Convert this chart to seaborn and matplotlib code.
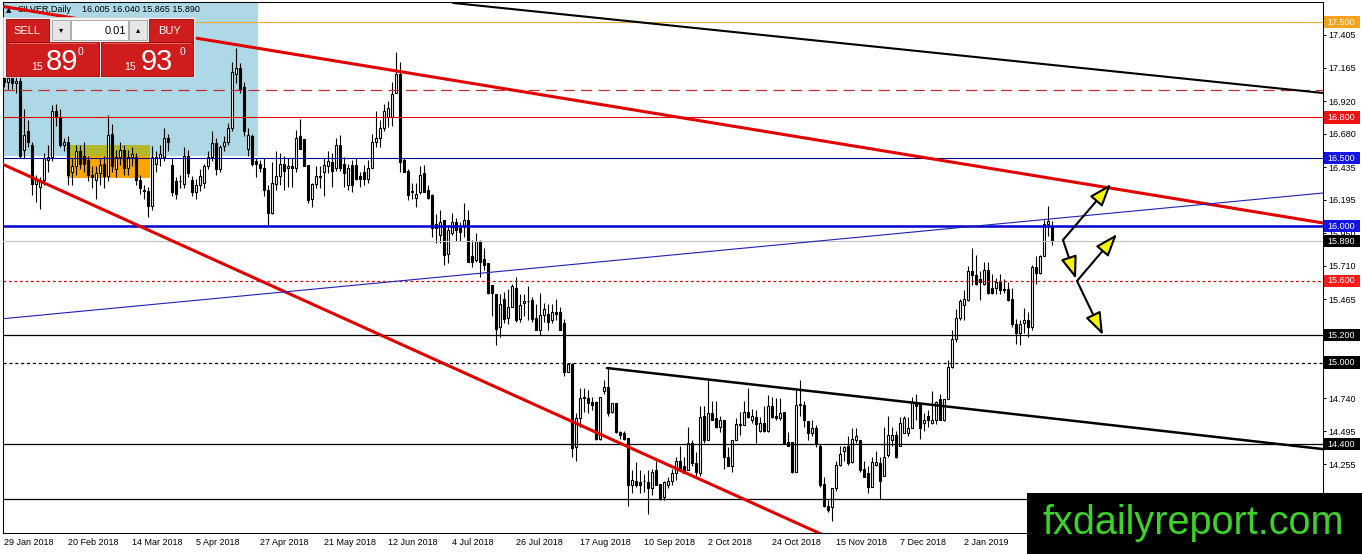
import matplotlib
matplotlib.use("Agg")
import numpy as np
import pandas as pd
import matplotlib.pyplot as plt
import matplotlib.font_manager as fm
import matplotlib.transforms as mtransforms
from matplotlib.patches import Rectangle
import seaborn as sns

# ===================================
# DATA
# ===================================

# daily candles, bar 0 = 29 Jan 2018
opens = [
    17.15, 17.06, 17.09, 17.05, 17.07, 16.56, 16.70, 16.60, 16.31, 16.29,
    16.34, 16.49, 16.51, 16.85, 16.80, 16.60, 16.62, 16.40, 16.44, 16.55,
    16.52, 16.49, 16.38, 16.34, 16.39, 16.46, 16.37, 16.68, 16.42, 16.51,
    16.56, 16.43, 16.51, 16.51, 16.34, 16.27, 16.26, 16.15, 16.46, 16.50,
    16.51, 16.65, 16.45, 16.33, 16.33, 16.31, 16.52, 16.34, 16.25, 16.30,
    16.32, 16.44, 16.51, 16.61, 16.42, 16.59, 16.62, 16.72, 17.12, 17.16,
    17.02, 16.57, 16.66, 16.48, 16.46, 16.43, 16.27, 16.10, 16.31, 16.37,
    16.46, 16.43, 16.44, 16.43, 16.66, 16.64, 16.45, 16.20, 16.31, 16.37,
    16.40, 16.44, 16.47, 16.43, 16.60, 16.46, 16.30, 16.45, 16.45, 16.37,
    16.40, 16.35, 16.43, 16.62, 16.65, 16.72, 16.80, 16.80, 16.98, 17.12,
    16.49, 16.41, 16.26, 16.21, 16.25, 16.39, 16.27, 16.23, 16.02, 15.94,
    16.05, 15.80, 15.95, 16.03, 15.99, 16.01, 16.05, 15.78, 15.75, 15.89,
    15.76, 15.73, 15.57, 15.50, 15.26, 15.47, 15.33, 15.41, 15.55, 15.32,
    15.44, 15.45, 15.46, 15.33, 15.24, 15.35, 15.36, 15.31, 15.37, 15.37,
    15.29, 14.93, 14.99, 14.38, 14.59, 14.74, 14.74, 14.71, 14.71, 14.44,
    14.79, 14.82, 14.64, 14.70, 14.49, 14.48, 14.45, 14.10, 14.13, 14.12,
    14.13, 14.12, 14.08, 14.21, 14.11, 14.01, 14.10, 14.13, 14.19, 14.28,
    14.24, 14.21, 14.41, 14.26, 14.19, 14.61, 14.43, 14.63, 14.59, 14.53,
    14.58, 14.31, 14.24, 14.43, 14.54, 14.54, 14.64, 14.58, 14.60, 14.50,
    14.56, 14.50, 14.68, 14.61, 14.59, 14.64, 14.42, 14.42, 14.20, 14.69,
    14.69, 14.57, 14.48, 14.52, 14.39, 14.11, 13.95, 13.94, 14.08, 14.25,
    14.35, 14.39, 14.27, 14.43, 14.43, 14.22, 14.19, 14.09, 14.25, 14.26,
    14.17, 14.32, 14.43, 14.47, 14.39, 14.48, 14.48, 14.52, 14.70, 14.70,
    14.56, 14.61, 14.56, 14.58, 14.73, 14.58, 14.73, 14.97, 15.17, 15.33,
    15.42, 15.46, 15.67, 15.64, 15.61, 15.58, 15.68, 15.55, 15.55, 15.59,
    15.54, 15.54, 15.47, 15.28, 15.22, 15.29, 15.31, 15.26, 15.70, 15.66,
    15.78, 16.02, 16.005,
]
highs = [
    17.25, 17.14, 17.12, 17.10, 17.10, 16.86, 16.78, 16.62, 16.38, 16.36,
    16.54, 16.60, 16.89, 16.90, 16.86, 16.65, 16.66, 16.50, 16.60, 16.60,
    16.62, 16.52, 16.44, 16.44, 16.50, 16.52, 16.82, 16.75, 16.56, 16.62,
    16.60, 16.56, 16.58, 16.54, 16.38, 16.30, 16.29, 16.59, 16.55, 16.60,
    16.72, 16.68, 16.50, 16.36, 16.38, 16.58, 16.56, 16.37, 16.35, 16.42,
    16.46, 16.55, 16.70, 16.65, 16.60, 16.66, 16.76, 17.21, 17.31, 17.20,
    17.06, 16.72, 16.68, 16.50, 16.49, 16.50, 16.30, 16.47, 16.55, 16.54,
    16.52, 16.50, 16.50, 16.71, 16.79, 16.64, 16.45, 16.32, 16.44, 16.44,
    16.50, 16.55, 16.54, 16.65, 16.67, 16.51, 16.46, 16.49, 16.50, 16.40,
    16.45, 16.49, 16.68, 16.85, 16.78, 16.90, 16.92, 17.06, 17.28, 17.21,
    16.50, 16.42, 16.32, 16.32, 16.44, 16.45, 16.30, 16.24, 16.09, 16.12,
    16.05, 16.01, 16.10, 16.06, 16.03, 16.17, 16.12, 15.90, 15.95, 15.90,
    15.84, 15.73, 15.57, 15.50, 15.50, 15.52, 15.54, 15.58, 15.63, 15.50,
    15.50, 15.56, 15.48, 15.43, 15.51, 15.44, 15.43, 15.43, 15.47, 15.41,
    15.32, 15.00, 15.00, 14.63, 14.81, 14.81, 14.80, 14.75, 14.72, 14.75,
    14.87, 14.96, 14.70, 14.70, 14.50, 14.50, 14.45, 14.21, 14.27, 14.21,
    14.18, 14.21, 14.22, 14.28, 14.11, 14.13, 14.16, 14.22, 14.31, 14.39,
    14.31, 14.53, 14.43, 14.34, 14.68, 14.68, 14.87, 14.72, 14.72, 14.61,
    14.58, 14.38, 14.43, 14.59, 14.64, 14.72, 14.81, 14.66, 14.65, 14.60,
    14.68, 14.76, 14.75, 14.74, 14.74, 14.64, 14.49, 14.42, 14.80, 14.87,
    14.72, 14.57, 14.58, 14.54, 14.40, 14.16, 13.99, 14.08, 14.28, 14.39,
    14.39, 14.46, 14.52, 14.52, 14.43, 14.28, 14.24, 14.31, 14.35, 14.31,
    14.53, 14.61, 14.53, 14.50, 14.60, 14.61, 14.60, 14.75, 14.77, 14.70,
    14.63, 14.65, 14.79, 14.72, 14.77, 14.73, 15.02, 15.24, 15.39, 15.47,
    15.53, 15.71, 15.84, 15.79, 15.67, 15.74, 15.74, 15.65, 15.62, 15.65,
    15.61, 15.59, 15.55, 15.32, 15.31, 15.40, 15.37, 15.72, 15.78, 15.79,
    16.05, 16.15, 16.04,
]
lows = [
    17.02, 17.00, 17.01, 16.98, 16.50, 16.50, 16.58, 16.23, 16.18, 16.13,
    16.30, 16.40, 16.48, 16.74, 16.58, 16.55, 16.30, 16.30, 16.38, 16.42,
    16.40, 16.33, 16.28, 16.20, 16.30, 16.28, 16.33, 16.40, 16.36, 16.45,
    16.38, 16.38, 16.44, 16.30, 16.24, 16.20, 16.07, 16.12, 16.40, 16.44,
    16.48, 16.55, 16.22, 16.20, 16.28, 16.28, 16.36, 16.22, 16.20, 16.26,
    16.28, 16.42, 16.48, 16.38, 16.40, 16.55, 16.60, 16.70, 17.05, 16.98,
    16.66, 16.52, 16.44, 16.36, 16.40, 16.22, 16.00, 16.09, 16.27, 16.30,
    16.27, 16.29, 16.29, 16.40, 16.57, 16.44, 16.17, 16.14, 16.28, 16.28,
    16.22, 16.39, 16.29, 16.41, 16.41, 16.29, 16.27, 16.25, 16.34, 16.29,
    16.30, 16.32, 16.43, 16.58, 16.58, 16.70, 16.73, 16.74, 16.98, 16.40,
    16.40, 16.19, 16.20, 16.14, 16.24, 16.25, 16.20, 15.92, 15.88, 15.88,
    15.72, 15.73, 15.94, 15.89, 15.89, 15.92, 15.74, 15.70, 15.74, 15.63,
    15.68, 15.50, 15.34, 15.13, 15.19, 15.29, 15.28, 15.41, 15.30, 15.30,
    15.34, 15.31, 15.30, 15.24, 15.20, 15.30, 15.24, 15.29, 15.31, 15.24,
    14.90, 14.93, 14.31, 14.28, 14.53, 14.64, 14.63, 14.65, 14.43, 14.43,
    14.77, 14.61, 14.63, 14.48, 14.44, 14.43, 13.95, 14.04, 14.09, 14.04,
    14.05, 13.89, 14.03, 14.10, 13.99, 13.99, 14.08, 14.10, 14.14, 14.22,
    14.19, 14.21, 14.24, 14.17, 14.17, 14.41, 14.43, 14.58, 14.52, 14.49,
    14.22, 14.24, 14.20, 14.43, 14.47, 14.54, 14.59, 14.56, 14.41, 14.49,
    14.49, 14.49, 14.59, 14.58, 14.58, 14.40, 14.39, 14.19, 14.20, 14.61,
    14.53, 14.43, 14.46, 14.38, 14.09, 13.94, 13.90, 13.84, 14.06, 14.24,
    14.28, 14.25, 14.26, 14.41, 14.20, 14.16, 14.04, 14.09, 14.24, 14.00,
    14.17, 14.31, 14.39, 14.30, 14.39, 14.48, 14.46, 14.52, 14.58, 14.44,
    14.50, 14.53, 14.55, 14.55, 14.58, 14.57, 14.73, 14.96, 15.15, 15.31,
    15.31, 15.45, 15.57, 15.57, 15.46, 15.57, 15.50, 15.50, 15.50, 15.50,
    15.51, 15.45, 15.26, 15.14, 15.13, 15.22, 15.19, 15.24, 15.58, 15.65,
    15.78, 15.93, 15.865,
]
closes = [
    17.06, 17.09, 17.05, 17.07, 16.52, 16.67, 16.62, 16.31, 16.34, 16.34,
    16.50, 16.51, 16.85, 16.80, 16.60, 16.62, 16.38, 16.44, 16.55, 16.46,
    16.46, 16.38, 16.36, 16.39, 16.45, 16.37, 16.67, 16.44, 16.51, 16.56,
    16.43, 16.51, 16.53, 16.34, 16.28, 16.26, 16.15, 16.51, 16.51, 16.53,
    16.65, 16.62, 16.25, 16.24, 16.33, 16.52, 16.39, 16.25, 16.30, 16.37,
    16.44, 16.51, 16.61, 16.42, 16.58, 16.62, 16.72, 17.13, 17.16, 17.01,
    16.70, 16.67, 16.46, 16.46, 16.43, 16.27, 16.10, 16.32, 16.37, 16.46,
    16.41, 16.44, 16.43, 16.65, 16.57, 16.44, 16.19, 16.31, 16.37, 16.36,
    16.45, 16.48, 16.41, 16.60, 16.43, 16.39, 16.43, 16.30, 16.35, 16.35,
    16.35, 16.43, 16.62, 16.65, 16.72, 16.85, 16.87, 16.97, 17.12, 16.47,
    16.40, 16.23, 16.25, 16.24, 16.38, 16.25, 16.21, 15.99, 15.99, 16.03,
    15.79, 15.97, 16.03, 15.97, 15.96, 16.05, 15.74, 15.74, 15.89, 15.74,
    15.72, 15.51, 15.51, 15.25, 15.43, 15.32, 15.41, 15.56, 15.31, 15.42,
    15.45, 15.45, 15.32, 15.24, 15.35, 15.39, 15.30, 15.37, 15.36, 15.24,
    14.93, 14.99, 14.37, 14.59, 14.74, 14.75, 14.70, 14.69, 14.44, 14.75,
    14.82, 14.63, 14.70, 14.49, 14.47, 14.44, 14.10, 14.14, 14.10, 14.10,
    14.13, 14.08, 14.20, 14.10, 14.00, 14.12, 14.13, 14.19, 14.28, 14.22,
    14.19, 14.41, 14.26, 14.20, 14.60, 14.43, 14.63, 14.58, 14.53, 14.58,
    14.31, 14.24, 14.43, 14.55, 14.55, 14.64, 14.60, 14.61, 14.55, 14.56,
    14.50, 14.68, 14.60, 14.59, 14.63, 14.40, 14.39, 14.20, 14.69, 14.69,
    14.58, 14.48, 14.52, 14.40, 14.10, 13.95, 13.92, 14.08, 14.25, 14.33,
    14.38, 14.26, 14.44, 14.46, 14.21, 14.16, 14.09, 14.27, 14.27, 14.13,
    14.31, 14.47, 14.47, 14.31, 14.56, 14.59, 14.52, 14.71, 14.68, 14.52,
    14.58, 14.58, 14.58, 14.71, 14.58, 14.73, 14.97, 15.17, 15.33, 15.45,
    15.47, 15.67, 15.64, 15.58, 15.59, 15.68, 15.51, 15.51, 15.59, 15.53,
    15.53, 15.46, 15.28, 15.22, 15.28, 15.31, 15.26, 15.70, 15.66, 15.78,
    16.02, 16.04, 15.89,
]

# date labels every 16 bars
date_labels = ["29 Jan 2018", "20 Feb 2018", "14 Mar 2018", "5 Apr 2018",
               "27 Apr 2018", "21 May 2018", "12 Jun 2018", "4 Jul 2018",
               "26 Jul 2018", "17 Aug 2018", "10 Sep 2018", "2 Oct 2018",
               "24 Oct 2018", "15 Nov 2018", "7 Dec 2018", "2 Jan 2019"]
date_bars = [0, 16, 32, 48, 64, 80, 96, 112, 128, 144, 160, 176, 192, 208, 224, 240]

price_ticks = [17.405, 17.165, 16.920, 16.680, 16.435, 16.195, 15.950, 15.710,
               15.465, 15.220, 14.980, 14.740, 14.495, 14.255, 14.010]
# ticks that sit under a level label carry no text
hidden_ticks = [15.220, 14.980, 14.010]

# horizontal levels
level_prices = [17.5, 17.0, 16.8, 16.5, 16.0, 15.89, 15.6, 15.2, 15.0, 14.4, 14.0]
level_labels = ["17.500", "", "16.800", "16.500", "16.000", "15.890",
                "15.600", "15.200", "15.000", "14.400", "14.000"]

# trend lines (bar, price)
red_top_bars, red_top_prices = [-1.0, 329.75], [17.618, 16.025]
red_low_bars, red_low_prices = [-1.0, 206.5], [16.465, 13.712]
black_top_bars, black_top_prices = [112.25, 329.75], [17.640, 16.979]
black_neck_bars, black_neck_prices = [150.75, 329.75], [14.960, 14.365]
blue_rise_bars, blue_rise_prices = [-1.0, 329.75], [15.320, 16.245]

# scenario arrows
arrow_start_bars = [264.75, 264.75, 268.25, 268.25]
arrow_start_prices = [15.900, 15.900, 15.599, 15.599]
arrow_end_bars = [276.75, 268.0, 278.25, 274.75]
arrow_end_prices = [16.311, 15.614, 15.944, 15.202]

# zones (bar0, bar1, price0, price1)
blue_zone = [-1.0, 63.6, 16.517, 17.70]
olive_zone = [15.75, 36.5, 16.517, 16.597]
orange_zone = [15.75, 36.5, 16.355, 16.517]

# ===================================
# STYLE
# ===================================

level_colors = ["#f0a830", "#c03030", "#e00000", "#000090", "#0000d0", "#c0c0c0",
                "#e00000", "black", "black", "black", "black"]
level_styles = ["-", (0, (9, 5)), "-", "-", "-", "-", (0, (2.2, 2.2)), "-",
                (0, (2.5, 2.2)), "-", "-"]
level_widths = [0.8, 0.9, 0.8, 0.8, 1.8, 0.8, 0.9, 0.9, 0.9, 0.9, 0.9]
label_bg = ["#f7a21b", None, "#ee1111", "#1414e6", "#1414e6", "black",
            "#ff1a1a", "black", "black", "black", "black"]

sns.set_style("white")
plt.rcParams["font.family"] = ["Liberation Sans", "DejaVu Sans"]
plt.rcParams["axes.edgecolor"] = "black"
plt.rcParams["text.color"] = "black"
plt.rcParams["xtick.color"] = "black"
plt.rcParams["ytick.color"] = "black"

W, H = 1362, 554
fig = plt.figure(figsize=(W / 100, H / 100), dpi=100, facecolor="white")
ax = fig.add_axes([3 / W, (H - 533) / H, 1320 / W, 531 / H])
ax.set_xlim(-0.25, 329.75)
ax.set_ylim(13.749, 17.647)

# overlay in pixel coordinates for panel / watermark
ov = fig.add_axes([0, 0, 1, 1], zorder=10)
ov.set_xlim(0, W)
ov.set_ylim(H, 0)
ov.axis("off")
ov.patch.set_alpha(0)

# zones
for zone, col in [(blue_zone, "#add8e6"), (olive_zone, "#b3b82b"), (orange_zone, "#ffa500")]:
    ax.fill_between([zone[0], zone[1]], zone[2], zone[3], color=col, linewidth=0, zorder=0.5)

# horizontal levels
for p, col, ls, lw in zip(level_prices, level_colors, level_styles, level_widths):
    ax.axhline(p, color=col, linestyle=ls, linewidth=lw, zorder=3)

# candles
idx = np.arange(len(closes))
o = np.array(opens)
h = np.array(highs)
l = np.array(lows)
c = np.array(closes)
up = c >= o
ax.vlines(idx, l, h, color="black", linewidth=0.8, zorder=2)
bottom = np.minimum(o, c)
height = np.maximum(np.abs(c - o), 0.004)
ax.bar(idx[up], height[up], bottom=bottom[up], width=0.55, facecolor="white",
       edgecolor="black", linewidth=0.8, zorder=2.2)
ax.bar(idx[~up], height[~up], bottom=bottom[~up], width=0.55, facecolor="black",
       edgecolor="black", linewidth=0.8, zorder=2.2)

# trend lines
trend = [
    (red_top_bars, red_top_prices, "#e00000", 2.2),
    (red_low_bars, red_low_prices, "#e00000", 2.2),
    (black_top_bars, black_top_prices, "black", 1.5),
    (black_neck_bars, black_neck_prices, "black", 1.8),
    (blue_rise_bars, blue_rise_prices, "#2020b0", 0.8),
]
for bx, py, col, lw in trend:
    df = pd.DataFrame({"bar": bx, "price": py})
    sns.lineplot(data=df, x="bar", y="price", ax=ax, color=col, linewidth=lw,
                 sort=False, estimator=None, zorder=4)

# arrows
for sx, sy, ex, ey in zip(arrow_start_bars, arrow_start_prices, arrow_end_bars, arrow_end_prices):
    ax.annotate("", xy=(ex, ey), xytext=(sx, sy),
                arrowprops=dict(arrowstyle="-|>,head_length=0.55,head_width=0.2",
                                mutation_scale=25, fc="#f5f500", ec="black", lw=1.5,
                                shrinkA=0, shrinkB=0), zorder=5)

# axes
ax.set_xlabel("")
ax.set_ylabel("")
ax.yaxis.tick_right()
ax.set_yticks(price_ticks)
ax.set_yticklabels(["" if v in hidden_ticks else f"{v:.3f}" for v in price_ticks])
ax.set_xticks(date_bars)
ax.set_xticklabels(date_labels, ha="left")
ax.tick_params(axis="both", direction="out", length=2.2, width=0.75, pad=1.5,
               labelsize=6.5, colors="black")
ax.tick_params(axis="y", left=False, right=True)
for s in ax.spines.values():
    s.set_color("black")
    s.set_linewidth(0.75)
ax.grid(False)

# right price labels
trans = mtransforms.blended_transform_factory(ax.transAxes, ax.transData)
for p, txt, bg in zip(level_prices, level_labels, label_bg):
    if not txt:
        continue
    ax.add_patch(Rectangle((1.0008, p - 0.045), 36 / 1320, 0.09, transform=trans,
                           facecolor=bg, edgecolor="none", clip_on=False, zorder=6))
    ax.text(1.003, p, txt, transform=trans, ha="left", va="center", fontsize=6.5,
            color="white", clip_on=False, zorder=7)

# header
ax.text(6, 10, "\u25b2", transform=ov.transData, fontsize=5, va="center", ha="left",
        family=["DejaVu Sans"], zorder=1)
ax.text(18, 10, "SILVER,Daily", transform=ov.transData, fontsize=6.5, va="center",
        ha="left", zorder=1)
ax.text(82, 10, "16.005 16.040 15.865 15.890", transform=ov.transData, fontsize=6.5,
        va="center", ha="left", zorder=1)

# SELL / BUY panel
red = "#cf1d1d"
ov.add_patch(Rectangle((3, 17), 192, 60, facecolor="#f4f4f4", edgecolor="#d0d0d0", lw=0.6))
ov.add_patch(Rectangle((6, 19), 43, 23, facecolor=red, edgecolor="#a00000", lw=0.6))
ov.add_patch(Rectangle((149, 19), 44, 23, facecolor=red, edgecolor="#a00000", lw=0.6))
ov.add_patch(Rectangle((6, 42), 93, 34, facecolor=red, edgecolor="#a00000", lw=0.6))
ov.add_patch(Rectangle((101, 42), 92, 34, facecolor=red, edgecolor="#a00000", lw=0.6))
ov.add_patch(Rectangle((52, 20), 18, 20, facecolor="#e6e6e6", edgecolor="#a0a0a0", lw=0.6))
ov.add_patch(Rectangle((71, 20), 57, 20, facecolor="white", edgecolor="#a0a0a0", lw=0.6))
ov.add_patch(Rectangle((129, 20), 18, 20, facecolor="#e6e6e6", edgecolor="#a0a0a0", lw=0.6))
ov.plot([9, 96], [42.5, 42.5], color="#e87070", lw=0.6)
ov.plot([104, 190], [42.5, 42.5], color="#e87070", lw=0.6)
ov.text(27, 31, "SELL", color="white", fontsize=8, ha="center", va="center")
ov.text(170, 31, "BUY", color="white", fontsize=8, ha="center", va="center")
ov.text(61, 30, "\u25be", color="black", fontsize=6, ha="center", va="center",
        family=["DejaVu Sans"])
ov.text(138, 30, "\u25b4", color="black", fontsize=6, ha="center", va="center",
        family=["DejaVu Sans"])
ov.text(126, 31, "0.01", color="black", fontsize=8, ha="right", va="center")
ov.text(37, 70, "15", color="white", fontsize=7.5, ha="center", va="baseline")
ov.text(62, 70, "89", color="white", fontsize=21, ha="center", va="baseline")
ov.text(81, 55, "0", color="white", fontsize=7.5, ha="center", va="baseline")
ov.text(130, 70, "15", color="white", fontsize=7.5, ha="center", va="baseline")
ov.text(157, 70, "93", color="white", fontsize=21, ha="center", va="baseline")
ov.text(182, 55, "0", color="white", fontsize=7.5, ha="center", va="baseline")

# watermark
try:
    fm.findfont(fm.FontProperties(family="Liberation Sans Narrow"), fallback_to_default=False)
    wm_family, wm_size = "Liberation Sans Narrow", 30
except Exception:
    wm_family, wm_size = "Liberation Sans", 28.5
ov.add_patch(Rectangle((1027, 493), 335, 61, facecolor="black", edgecolor="none"))
ov.text(1193, 534, "fxdailyreport.com", color="#3cd22a", fontsize=wm_size,
        family=wm_family, ha="center", va="baseline")

fig.savefig("out.png", dpi=100, facecolor="white")
